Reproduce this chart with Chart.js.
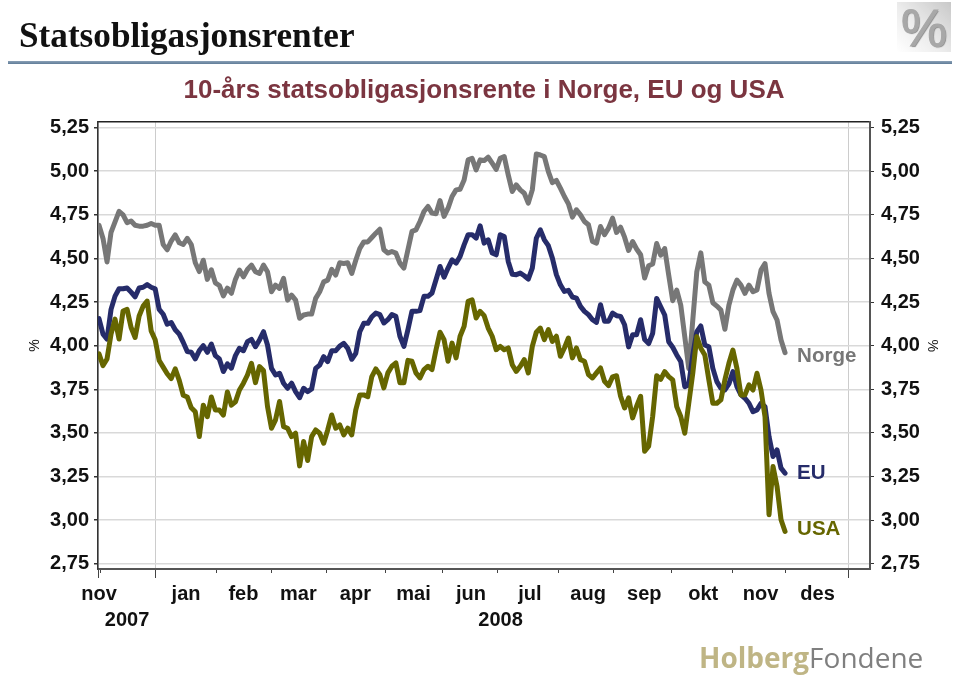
<!DOCTYPE html>
<html lang="no">
<head>
<meta charset="utf-8">
<title>Statsobligasjonsrenter</title>
<script src="https://cdn.jsdelivr.net/npm/chart.js@4"></script>
<style>
html,body{margin:0;padding:0;background:#fff}
#page{position:relative;width:960px;height:680px;overflow:hidden}
canvas{position:absolute;left:0;top:0}
#head{position:absolute;left:19px;top:15px;font:bold 35.2px/42px "Liberation Serif",serif;color:#111;white-space:nowrap}
#rule{position:absolute;left:8px;top:61px;width:944px;height:3px;background:linear-gradient(#8aa0b6,#5f7c98)}
#pct{position:absolute;left:897px;top:2px;width:54px;height:50px;background:linear-gradient(225deg,#c8c8c8,#ececec 55%,#fff);color:#a8a8a8;font:52px/52px "Liberation Sans",sans-serif;text-align:center;text-shadow:1px 1px 1px #888;-webkit-text-stroke:1px #a8a8a8}
#logo{position:absolute;left:699px;top:636px;font:28px/42px "Open Sans",sans-serif;white-space:nowrap;color:#7f7f7f}
#logo b{color:#bfb585;font-weight:700}
</style>
</head>
<body>
<div id="page">
<canvas id="c" width="960" height="680"></canvas>
<div id="head">Statsobligasjonsrenter</div>
<div id="rule"></div>
<div id="pct">%</div>
<div id="logo"><b>Holberg</b>Fondene</div>
</div>
<script>
const norge = [4.69,4.615,4.48,4.65,4.71,4.77,4.75,4.705,4.715,4.69,4.685,4.685,4.69,4.70,4.69,4.69,4.58,4.55,4.60,4.635,4.59,4.58,4.615,4.58,4.475,4.425,4.49,4.38,4.435,4.36,4.345,4.285,4.33,4.30,4.38,
4.433,4.395,4.437,4.462,4.424,4.414,4.462,4.424,4.309,4.347,4.328,4.386,4.261,4.29,4.261,4.157,4.176,4.181,4.181,4.271,4.309,4.366,4.376,4.437,4.405,4.475,4.471,4.475,4.414,4.49,4.557,4.595,4.595,4.62,
4.645,4.668,4.55,4.531,4.54,4.531,4.473,4.445,4.55,4.655,4.664,4.712,4.769,4.798,4.76,4.756,4.832,4.741,4.788,4.855,4.893,4.897,4.95,5.065,5.074,5.008,5.065,5.061,5.08,5.046,5.011,5.074,5.084,4.979,4.884,
4.922,4.893,4.874,4.817,4.893,5.099,5.093,5.084,4.998,4.935,4.947,4.903,4.855,4.813,4.737,4.779,4.75,4.712,4.693,4.597,4.588,4.683,4.636,4.674,4.731,4.649,4.679,4.622,4.546,4.597,4.554,4.521,4.388,4.458,
4.468,4.586,4.519,4.557,4.405,4.258,4.319,4.233,4.052,3.87,4.147,4.424,4.532,4.366,4.347,4.246,4.227,4.204,4.094,4.233,4.319,4.376,4.347,4.30,4.347,4.309,4.319,4.433,4.471,4.30,4.195,4.147,4.033,3.96];
const eu = [4.155,4.066,4.038,4.208,4.284,4.326,4.326,4.331,4.307,4.28,4.331,4.335,4.35,4.335,4.326,4.208,4.18,4.123,4.133,4.091,4.066,4.019,3.966,3.962,3.924,3.972,4.0,3.962,4.009,3.943,3.924,3.852,3.896,3.871,3.943,
3.985,3.971,4.023,4.036,3.994,4.033,4.08,4.004,3.87,3.832,3.842,3.785,3.756,3.785,3.737,3.702,3.756,3.737,3.752,3.87,3.889,3.937,3.909,3.971,3.971,3.998,4.013,3.985,3.922,3.956,4.08,4.128,4.128,4.166,
4.187,4.178,4.13,4.149,4.178,4.168,4.054,3.996,4.092,4.197,4.197,4.202,4.283,4.283,4.302,4.378,4.454,4.393,4.445,4.492,4.473,4.512,4.578,4.636,4.636,4.616,4.687,4.588,4.607,4.531,4.521,4.636,4.626,4.483,4.41,
4.407,4.416,4.401,4.382,4.445,4.616,4.664,4.607,4.573,4.502,4.407,4.349,4.311,4.317,4.279,4.273,4.225,4.197,4.178,4.149,4.134,4.235,4.14,4.14,4.187,4.172,4.168,4.12,3.993,4.063,4.063,4.149,4.035,4.012,
4.071,4.271,4.223,4.176,4.023,3.991,3.947,3.909,3.765,3.775,3.947,4.08,4.113,4.004,3.994,3.87,3.794,3.756,3.746,3.781,3.851,3.765,3.718,3.699,3.67,3.622,3.632,3.67,3.651,3.479,3.365,3.403,3.298,3.269];
const usa = [3.953,3.886,3.924,4.066,4.152,4.038,4.199,4.208,4.104,4.047,4.17,4.227,4.256,4.085,4.034,3.915,3.877,3.839,3.811,3.867,3.801,3.716,3.706,3.644,3.621,3.479,3.659,3.593,3.706,3.631,3.631,3.602,3.735,3.659,3.678,
3.746,3.785,3.832,3.899,3.788,3.88,3.857,3.651,3.527,3.575,3.68,3.536,3.527,3.479,3.498,3.311,3.451,3.342,3.479,3.517,3.498,3.441,3.517,3.603,3.527,3.546,3.489,3.527,3.489,3.632,3.718,3.718,3.708,3.823,
3.867,3.834,3.758,3.844,3.882,3.901,3.787,3.787,3.916,3.911,3.844,3.815,3.863,3.882,3.863,3.977,4.077,4.035,3.911,4.015,3.93,4.054,4.111,4.254,4.263,4.159,4.197,4.172,4.101,4.054,3.977,3.996,3.977,3.987,3.891,
3.853,3.882,3.92,3.844,3.996,4.077,4.101,4.035,4.092,4.025,4.054,3.939,3.987,4.044,3.93,3.987,3.92,3.911,3.834,3.815,3.844,3.872,3.796,3.771,3.821,3.828,3.71,3.643,3.701,3.586,3.653,3.71,3.395,3.424,
3.594,3.828,3.807,3.851,3.823,3.804,3.651,3.594,3.498,3.67,3.842,4.052,3.985,3.947,3.804,3.67,3.67,3.689,3.804,3.899,3.975,3.87,3.718,3.718,3.775,3.746,3.842,3.746,3.594,3.031,3.308,3.193,3.002,2.935];

const monthLabels = ['nov','jan','feb','mar','apr','mai','jun','jul','aug','sep','okt','nov','des'];
const monthCentres = [0,21.7,36,49.7,63.9,78.4,92.7,107.4,121.9,135.9,150.6,164.9,179.1];
const yearLabels = ['2007','2008'];
const yearCentres = [7,100.1];
const longTicks = [-0.25,14.1,186.8];
const shortTicks = [0.25,29.2,43,56.8,71.3,85.7,99.4,114.6,128.3,142.7,157.9,171];
const yTicks = [2.75,3.00,3.25,3.50,3.75,4.00,4.25,4.50,4.75,5.00,5.25];
const seriesNames = ['Norge','EU','USA'];
const seriesColors = ['#777777','#262c6a','#666600'];
const seriesLabelY = [3.94,3.27,2.95];
const seriesLabelX = 174;
const X_MIN = -0.25, X_MAX = 192.17, Y_MIN = 2.72, Y_MAX = 5.281;
const FONT = '"Liberation Sans", Arial, sans-serif';

const points = a => a.map((v,i)=>({x:i,y:v}));
const setTicks = list => ({afterBuildTicks(s){ s.ticks = list.map(v=>({value:v})); }});
const overlayX = (list, grid, extra) => Object.assign({
  type:'linear', min:X_MIN, max:X_MAX, position:{y:Y_MIN},
  ticks:{display:false, autoSkip:false},
  grid:grid, border:{display:false}
}, setTicks(list), extra||{});

const endLabels = {
  id:'endLabels',
  afterDatasetsDraw(chart){
    const c = chart.ctx, sx = chart.scales.x, sy = chart.scales.y;
    c.save();
    c.font = 'bold 20.5px '+FONT;
    c.textBaseline = 'middle';
    c.textAlign = 'left';
    seriesNames.forEach((n,i)=>{
      c.fillStyle = seriesColors[i];
      c.fillText(n, sx.getPixelForValue(seriesLabelX), sy.getPixelForValue(seriesLabelY[i]));
    });
    c.restore();
  }
};

const allBottom = monthCentres.concat(yearCentres);
const allBottomText = monthLabels.map(m=>m).concat(yearLabels.map(y=>['',y]));
const tickFont = {family:FONT,size:20,weight:'bold'};

new Chart(document.getElementById('c'),{
  type:'line',
  data:{datasets:seriesNames.map((n,i)=>({
    label:n,
    data:points([norge,eu,usa][i]),
    borderColor:seriesColors[i],
    backgroundColor:seriesColors[i],
    borderWidth:5,
    pointRadius:0,
    tension:0,
    borderJoinStyle:'round',
    borderCapStyle:'round',
    order:3-i
  }))},
  options:{
    responsive:false, animation:false, parsing:true,
    layout:{padding:{top:75,left:0,right:0,bottom:0}},
    plugins:{
      legend:{display:false},
      tooltip:{enabled:false},
      title:{display:true,text:'10-års statsobligasjonsrente i Norge, EU og USA',fullSize:false,color:'#7b3540',
        font:{family:FONT,size:26,weight:'bold'},padding:{top:0,bottom:16}}
    },
    scales:{
      x:Object.assign({
        type:'linear',min:X_MIN,max:X_MAX,position:'bottom',
        afterFit(s){s.height=111;},
        grid:{drawOnChartArea:false,tickLength:9,tickColor:'rgba(0,0,0,0)'},
        border:{color:'#555',width:2},
        ticks:{autoSkip:false,maxRotation:0,minRotation:0,padding:3,color:'#111',font:{...tickFont,lineHeight:1.3},
          callback(v,i){return allBottomText[i];}}
      },setTicks(allBottom)),
      xLong:overlayX(longTicks,{color:'#cccccc',lineWidth:1,tickColor:'#444',tickLength:9}),
      xShort:overlayX(shortTicks,{drawOnChartArea:false,color:'#444',tickColor:'#444',tickLength:4}),
      xTop:overlayX([],{display:false},{position:{y:Y_MAX},border:{display:true,color:'#222',width:1.5}}),
      y:Object.assign({
        type:'linear',min:Y_MIN,max:Y_MAX,position:'left',
        afterFit(s){s.width=98;},
        grid:{color:'#d9d9d9',lineWidth:1.5,tickLength:4,tickColor:'#333'},
        border:{color:'#333',width:1.5},
        title:{display:true,text:'%',color:'#111',font:{family:FONT,size:14},padding:{top:27,bottom:0}},
        ticks:{autoSkip:false,padding:5,color:'#111',font:tickFont,
          callback(v){return v.toFixed(2).replace('.',',');}}
      },setTicks(yTicks)),
      yRight:Object.assign({
        type:'linear',min:Y_MIN,max:Y_MAX,position:'right',
        afterFit(s){s.width=90;},
        grid:{drawOnChartArea:false,tickLength:4,tickColor:'#333'},
        border:{color:'#555',width:2},
        title:{display:true,text:'%',color:'#111',font:{family:FONT,size:14},padding:{top:20,bottom:0}},
        ticks:{autoSkip:false,padding:7,color:'#111',font:tickFont,
          callback(v){return v.toFixed(2).replace('.',',');}}
      },setTicks(yTicks))
    }
  },
  plugins:[endLabels]
});
</script>
</body>
</html>
